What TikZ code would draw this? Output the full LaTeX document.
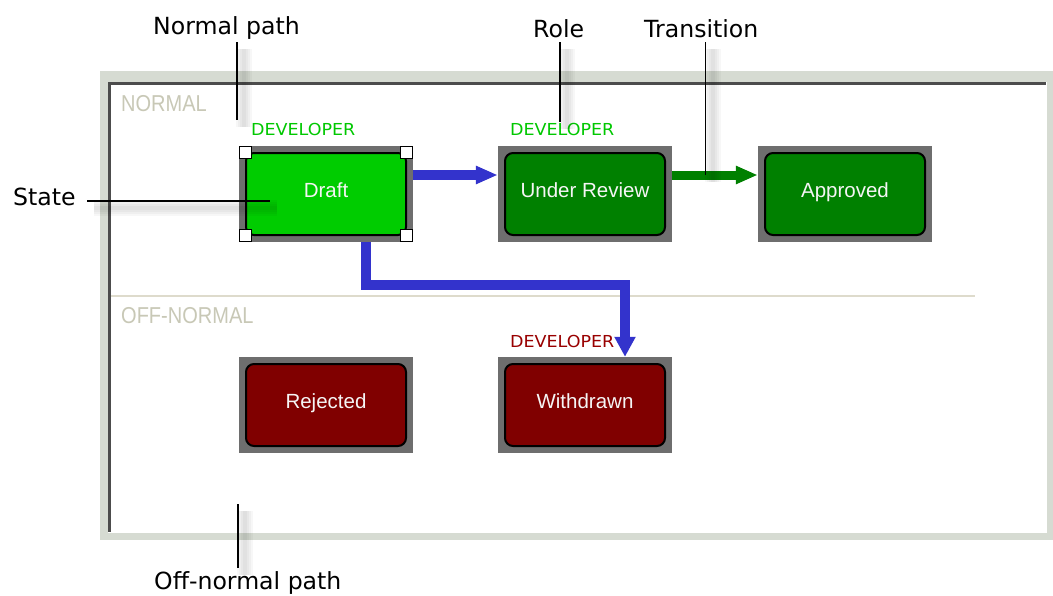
\documentclass[tikz,border=0pt]{standalone}
\usepackage{fontspec}
\usetikzlibrary{arrows.meta}
\newfontfamily\annfont{DejaVu Sans}
\newfontfamily\boxfont{Liberation Sans}

\definecolor{bandgray}{RGB}{214,219,210}
\definecolor{framedark}{RGB}{76,76,76}
\definecolor{sepline}{RGB}{222,219,204}
\definecolor{lanetext}{RGB}{200,200,182}
\definecolor{boxgray}{RGB}{110,110,110}
\definecolor{draftgreen}{RGB}{0,204,0}
\definecolor{okgreen}{RGB}{0,128,0}
\definecolor{badred}{RGB}{128,0,0}
\definecolor{flowblue}{RGB}{51,51,204}
\definecolor{rolegreen}{RGB}{0,200,0}
\definecolor{rolered}{RGB}{153,0,0}

\tikzset{
  statebox/.style={minimum width=174pt, minimum height=96pt, inner sep=0pt,
    fill=boxgray, text=white!96!black,
    font=\boxfont\fontsize{20.5pt}{24pt}\selectfont,
    text height=11pt, text depth=4pt,
    path picture={\draw[fill=#1, line width=2pt, rounded corners=8pt]
      ([shift={(7pt,7pt)}]path picture bounding box.south west) rectangle
      ([shift={(-7pt,-7pt)}]path picture bounding box.north east);}},
  handle/.style={draw=black, fill=white, line width=1pt, minimum size=12pt, inner sep=0pt},
  flow/.style={line width=10pt},
  rolelabel/.style={inner sep=0pt, anchor=base west, font=\annfont\fontsize{16.5pt}{20pt}\selectfont},
  lanelabel/.style={inner sep=0pt, anchor=base west, text=lanetext,
    font=\boxfont\fontsize{23pt}{27pt}\selectfont},
  callout/.style={inner sep=0pt, anchor=base west, text=black,
    font=\annfont\fontsize{23.6pt}{28pt}\selectfont},
  softshadow/.style={draw=black, opacity=0.03, line width=#1,
    transform canvas={xshift=7pt,yshift=-7pt}},
  pointer/.style={line width=1.5pt, black,
    preaction={softshadow=16pt}, preaction={softshadow=12pt},
    preaction={softshadow=8pt}, preaction={softshadow=4pt}},
}

\begin{document}
\begin{tikzpicture}[x=1pt, y=-1pt]
\useasboundingbox (0,0) rectangle (1053,595);

% frame with sunken border
\fill[bandgray] (100,71) rectangle (1053,540);
\fill[white] (108,82) rectangle (1046,532);
\draw[white, line width=1.5pt] (108,532) -- (1046,532) -- (1046,82);
\draw[framedark, line width=2.5pt] (109.5,532) -- (109.5,83.5) -- (1046,83.5);

% lane separator and lane titles
\draw[sepline, line width=2pt] (111,296) -- (975,296);
\node[lanelabel] (lanenormal) at (121,111) {\scalebox{0.87}[1]{NORMAL}};
\node[lanelabel] (laneoff) at (121,323) {\scalebox{0.87}[1]{OFF-NORMAL}};

% states
\node[statebox=draftgreen] (draft) at (326,194) {Draft};
\node[statebox=okgreen] (review) at (585,194) {Under Review};
\node[statebox=okgreen] (approved) at (845,194) {Approved};
\node[statebox=badred] (rejected) at (326,405) {Rejected};
\node[statebox=badred] (withdrawn) at (585,405) {Withdrawn};

% selection handles on the current state
\node[handle, anchor=north west] (hnw) at (draft.north west) {};
\node[handle, anchor=north east] (hne) at (draft.north east) {};
\node[handle, anchor=south west] (hsw) at (draft.south west) {};
\node[handle, anchor=south east] (hse) at (draft.south east) {};

% roles
\node[rolelabel, text=rolegreen] (roledraft) at (251,135.5) {\scalebox{1.06}[1]{DEVELOPER}};
\node[rolelabel, text=rolegreen] (rolereview) at (510,135.5) {\scalebox{1.06}[1]{DEVELOPER}};
\node[rolelabel, text=rolered] (rolewithdrawn) at (510,347.5) {\scalebox{1.06}[1]{DEVELOPER}};

% transitions
\draw[flow, flowblue, -{Triangle[length=22pt,width=17pt]}]
  ([yshift=19pt]draft.east) -- ([yshift=19pt]review.west);
\draw[flow, flowblue, -{Triangle[length=20pt,width=20pt]}]
  ([xshift=40pt]draft.south) -- ++(0,42.5) -| ([xshift=40pt]withdrawn.north);
\draw[flow, line width=9pt, okgreen, -{Triangle[length=22pt,width=17pt]}]
  ([yshift=19pt]review.east) -- ([yshift=19pt]approved.west);

% callouts
\coordinate (np1) at (237,42);   \coordinate (np2) at (237,120);
\coordinate (ro1) at (560,42);   \coordinate (ro2) at (560,122);
\coordinate (tr1) at (705.5,42); \coordinate (tr2) at (705.5,175);
\coordinate (st1) at (87,201);   \coordinate (st2) at (270,201);
\coordinate (on1) at (238,504);  \coordinate (on2) at (238,568);

\draw[pointer] (np1) -- (np2);
\draw[pointer] (ro1) -- (ro2);
\draw[pointer] (tr1) -- (tr2);
\draw[pointer] (st1) -- (st2);
\draw[pointer] (on1) -- (on2);

\node[callout] (cnormal) at (153,34) {Normal path};
\node[callout] (crole) at (533,37) {Role};
\node[callout] (ctrans) at (644,37) {Transition};
\node[callout] (cstate) at (13,205) {State};
\node[callout] (coff) at (154,589) {Off-normal path};
\end{tikzpicture}
\end{document}
